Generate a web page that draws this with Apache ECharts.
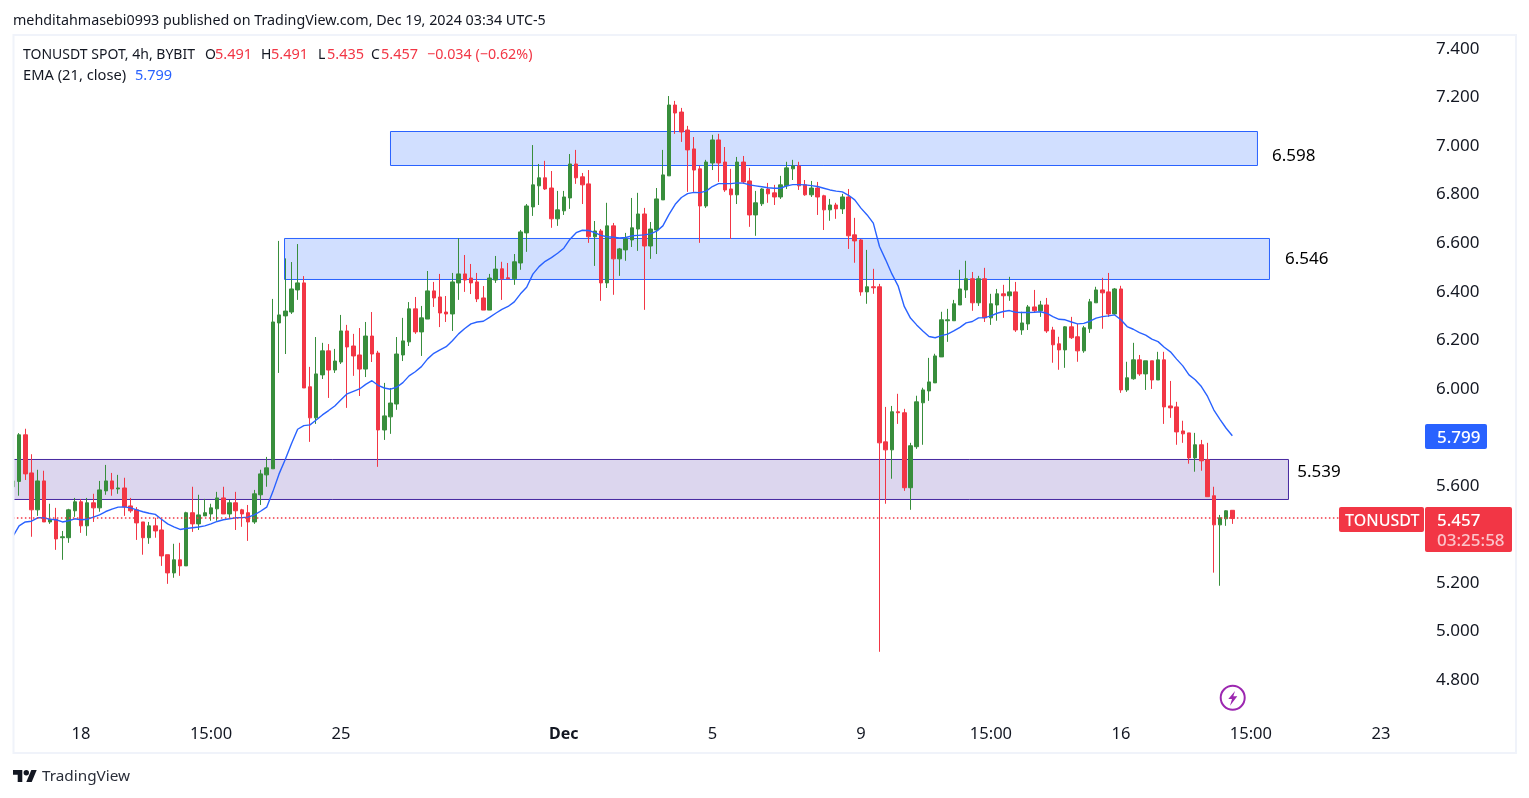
<!DOCTYPE html>
<html>
<head>
<meta charset="utf-8">
<title>TONUSDT</title>
<style>
  html, body { margin: 0; padding: 0; background: #fff; }
  #main { width: 1529px; height: 798px; }
</style>
<script src="https://cdn.jsdelivr.net/npm/echarts@6/dist/echarts.min.js"></script>
</head>
<body>
<div id="main"></div>
<script>
// 4h candles: [open, close, low, high]
const ohlc = [
  [5.588,5.612,5.588,5.612],
  [5.610,5.802,5.551,5.809],[5.802,5.641,5.616,5.827],[5.645,5.493,5.382,5.722],[5.493,5.612,5.468,5.658],[5.612,5.443,5.443,5.654],
  [5.443,5.454,5.435,5.518],[5.454,5.373,5.328,5.501],[5.378,5.382,5.287,5.406],[5.378,5.493,5.357,5.497],[5.489,5.526,5.464,5.542],
  [5.526,5.427,5.398,5.537],[5.427,5.522,5.386,5.542],[5.522,5.501,5.443,5.559],[5.501,5.575,5.485,5.612],[5.571,5.612,5.555,5.678],
  [5.612,5.579,5.551,5.645],[5.579,5.583,5.559,5.637],[5.583,5.505,5.468,5.625],[5.509,5.489,5.481,5.542],[5.493,5.439,5.369,5.504],
  [5.443,5.378,5.308,5.443],[5.378,5.427,5.353,5.443],[5.427,5.406,5.378,5.460],[5.410,5.303,5.262,5.456],[5.308,5.233,5.188,5.308],
  [5.233,5.287,5.213,5.353],[5.287,5.262,5.221,5.357],[5.262,5.481,5.262,5.485],[5.481,5.435,5.402,5.588],[5.435,5.472,5.410,5.555],
  [5.468,5.481,5.468,5.538],[5.476,5.501,5.448,5.518],[5.497,5.542,5.448,5.567],[5.542,5.476,5.476,5.588],[5.476,5.522,5.460,5.534],
  [5.522,5.489,5.410,5.567],[5.493,5.476,5.423,5.497],[5.481,5.443,5.365,5.513],[5.443,5.559,5.435,5.575],[5.555,5.641,5.513,5.658],
  [5.637,5.666,5.588,5.711],[5.662,6.267,5.662,6.362],[6.263,6.296,6.057,6.601],[6.292,6.312,6.135,6.529],[6.308,6.403,6.300,6.514],
  [6.399,6.428,6.358,6.588],[6.428,5.995,5.995,6.456],[6.000,5.872,5.773,6.082],[5.872,6.053,5.847,6.205],[6.049,6.148,6.032,6.181],
  [6.148,6.069,5.954,6.176],[6.069,6.106,6.057,6.156],[6.102,6.230,6.094,6.296],[6.230,6.164,5.913,6.255],[6.168,6.127,6.045,6.218],
  [6.131,6.073,5.962,6.242],[6.073,6.209,6.040,6.267],[6.209,6.135,6.102,6.308],[6.139,5.822,5.670,6.148],[5.822,5.880,5.781,6.016],
  [5.876,5.933,5.806,5.995],[5.929,6.135,5.905,6.205],[6.131,6.189,6.106,6.284],[6.185,6.321,6.168,6.349],[6.321,6.226,6.218,6.370],
  [6.226,6.284,6.127,6.333],[6.279,6.395,6.279,6.477],[6.395,6.366,6.329,6.432],[6.370,6.304,6.246,6.465],[6.308,6.300,6.267,6.374],
  [6.300,6.432,6.230,6.469],[6.428,6.465,6.358,6.612],[6.465,6.440,6.391,6.543],[6.448,6.428,6.382,6.506],[6.432,6.362,6.349,6.469],
  [6.366,6.316,6.316,6.415],[6.316,6.448,6.316,6.465],[6.440,6.485,6.428,6.539],[6.486,6.445,6.358,6.515],[6.449,6.445,6.445,6.510],
  [6.445,6.515,6.420,6.547],[6.510,6.638,6.482,6.646],[6.634,6.745,6.556,6.753],[6.741,6.832,6.704,6.996],[6.828,6.861,6.749,6.918],
  [6.861,6.815,6.811,6.931],[6.819,6.692,6.655,6.889],[6.692,6.729,6.663,6.807],[6.725,6.782,6.708,6.807],[6.778,6.918,6.733,6.959],
  [6.918,6.861,6.836,6.976],[6.865,6.832,6.753,6.881],[6.836,6.618,6.593,6.893],[6.618,6.642,6.498,6.683],[6.642,6.428,6.354,6.650],
  [6.428,6.663,6.407,6.758],[6.663,6.527,6.379,6.675],[6.527,6.568,6.457,6.572],[6.564,6.609,6.519,6.634],[6.605,6.655,6.576,6.778],
  [6.650,6.712,6.560,6.799],[6.712,6.580,6.317,6.737],[6.580,6.650,6.527,6.679],[6.646,6.774,6.547,6.819],[6.770,6.873,6.770,6.976],
  [6.869,7.161,6.869,7.198],[7.161,7.128,7.042,7.178],[7.132,7.050,7.009,7.149],[7.058,6.976,6.803,7.075],[6.980,6.893,6.803,7.029],
  [6.898,6.745,6.593,6.910],[6.745,6.926,6.737,6.935],[6.922,7.017,6.893,7.038],[7.017,6.922,6.844,7.042],[6.926,6.811,6.803,6.988],
  [6.815,6.791,6.609,6.898],[6.791,6.926,6.753,6.947],[6.926,6.844,6.836,6.951],[6.848,6.708,6.659,6.902],[6.708,6.758,6.622,6.807],
  [6.754,6.815,6.745,6.818],[6.815,6.795,6.758,6.840],[6.799,6.782,6.749,6.832],[6.782,6.832,6.774,6.869],[6.828,6.902,6.815,6.927],
  [6.898,6.910,6.852,6.935],[6.910,6.828,6.811,6.927],[6.832,6.791,6.787,6.852],[6.791,6.819,6.782,6.848],[6.819,6.782,6.708,6.844],
  [6.787,6.729,6.646,6.791],[6.729,6.749,6.684,6.774],[6.749,6.733,6.692,6.758],[6.733,6.782,6.712,6.795],[6.782,6.622,6.568,6.815],
  [6.626,6.601,6.511,6.696],[6.605,6.391,6.375,6.609],[6.391,6.412,6.342,6.564],[6.412,6.408,6.383,6.486],[6.412,5.769,4.908,6.424],
  [5.773,5.740,5.518,5.917],[5.740,5.897,5.621,5.921],[5.897,5.893,5.847,5.971],[5.893,5.584,5.571,5.909],[5.584,5.757,5.493,5.769],
  [5.753,5.938,5.744,5.963],[5.934,5.987,5.761,5.996],[5.983,6.020,5.942,6.119],[6.016,6.127,6.016,6.136],[6.123,6.276,6.123,6.309],
  [6.272,6.276,6.185,6.321],[6.272,6.342,6.272,6.358],[6.337,6.403,6.337,6.482],[6.399,6.445,6.366,6.519],[6.445,6.346,6.313,6.473],
  [6.346,6.445,6.333,6.457],[6.445,6.284,6.267,6.490],[6.284,6.342,6.255,6.383],[6.337,6.383,6.272,6.403],[6.383,6.375,6.284,6.420],
  [6.375,6.391,6.354,6.453],[6.391,6.234,6.226,6.432],[6.234,6.263,6.214,6.309],[6.259,6.329,6.234,6.337],[6.329,6.313,6.304,6.399],
  [6.313,6.337,6.288,6.354],[6.337,6.230,6.222,6.366],[6.234,6.173,6.099,6.247],[6.177,6.152,6.070,6.206],[6.152,6.247,6.078,6.250],
  [6.247,6.202,6.197,6.288],[6.206,6.148,6.103,6.259],[6.148,6.243,6.140,6.251],[6.239,6.350,6.222,6.362],[6.346,6.399,6.346,6.412],
  [6.399,6.387,6.239,6.449],[6.391,6.300,6.288,6.469],[6.300,6.403,6.296,6.407],[6.403,5.987,5.975,6.416],[5.987,6.037,5.979,6.103],
  [6.033,6.111,6.029,6.181],[6.111,6.053,6.045,6.131],[6.053,6.107,5.987,6.107],[6.107,6.028,5.991,6.107],[6.028,6.111,6.028,6.144],
  [6.111,5.917,5.847,6.144],[5.921,5.913,5.872,6.024],[5.917,5.814,5.761,5.938],[5.818,5.806,5.769,5.860],[5.810,5.707,5.683,5.810],
  [5.707,5.761,5.650,5.810],[5.761,5.695,5.654,5.781],[5.699,5.547,5.547,5.769],[5.551,5.431,5.234,5.588],[5.431,5.460,5.180,5.472],
  [5.456,5.489,5.427,5.491],[5.491,5.457,5.435,5.491]
];

// EMA (21, close), same length as ohlc
const ema = [
  5.383,5.427,5.443,5.446,5.460,5.460,5.454,5.452,5.443,5.448,5.456,5.452,5.454,5.463,5.472,5.486,5.496,5.504,5.505,5.501,
  5.493,5.485,5.479,5.474,5.454,5.435,5.423,5.412,5.416,5.419,5.422,5.427,5.435,5.445,5.452,5.456,5.460,5.461,5.463,5.472,
  5.487,5.504,5.568,5.641,5.700,5.765,5.825,5.840,5.843,5.863,5.884,5.902,5.921,5.946,5.971,5.981,5.991,6.010,6.025,6.006,
  5.995,5.990,5.998,6.017,6.045,6.062,6.083,6.115,6.138,6.152,6.165,6.190,6.218,6.240,6.259,6.267,6.270,6.286,6.303,6.319,
  6.331,6.350,6.383,6.410,6.464,6.495,6.517,6.532,6.550,6.571,6.608,6.635,6.645,6.644,6.635,6.624,6.618,6.616,6.613,6.615,
  6.622,6.624,6.626,6.630,6.641,6.663,6.710,6.752,6.780,6.796,6.801,6.800,6.806,6.825,6.837,6.837,6.837,6.840,6.839,6.832,
  6.828,6.824,6.820,6.818,6.818,6.828,6.833,6.833,6.832,6.829,6.825,6.818,6.811,6.806,6.803,6.789,6.770,6.736,6.708,6.674,
  6.578,6.523,6.465,6.416,6.331,6.283,6.255,6.230,6.207,6.202,6.211,6.217,6.230,6.245,6.263,6.269,6.284,6.285,6.292,6.303,
  6.310,6.314,6.307,6.306,6.306,6.307,6.309,6.303,6.289,6.278,6.276,6.267,6.259,6.261,6.270,6.283,6.289,6.292,6.296,6.276,
  6.248,6.237,6.223,6.213,6.196,6.186,6.163,6.144,6.114,6.086,6.049,6.029,6.001,5.960,5.905,5.866,5.829,5.798
];

// time axis: empty bars continue to the price scale
const barCount = 228;
const categories = Array.from({ length: barCount }, (_, i) => i);
const tickLabels = { 11: "18", 32: "15:00", 53: "25", 89: "Dec", 113: "5", 137: "9", 158: "15:00", 179: "16", 200: "15:00", 221: "23" };

// drawn boxes: [from bar, to bar, top price, bottom price]
const blueBoxes = [[61.0, 201.06, 7.0518, 6.9117], [43.88, 203.0, 6.6110, 6.4420]];
const purpleBoxes = [[0.1, 206.07, 5.7004, 5.5356]];
// box captions: [bar, price, text]
const boxLabels = [[203.4, 6.951, "6.598"], [205.5, 6.527, "6.546"], [207.5, 5.649, "5.539"]];

const lastPrice = 5.457;
const GREEN = "#388e3c";
const RED = "#f23645";
const BLUE = "#2962ff";
const TEXT = "#131722";
const FONT = '"Noto Sans", sans-serif';

function txt(x, y, text, fill, size, weight) {
    return {
        type: "text", x, y, z: 20,
        style: { text, fill, font: (weight || "normal") + " " + size + 'px ' + FONT, textVerticalAlign: "middle" },
    };
}
function box(x, y, width, height, fill, r) {
    return { type: "rect", z: 15, shape: { x, y, width, height, r: r || 0 }, style: { fill } };
}
function poly(points, fill) {
    return { type: "polygon", z: 16, shape: { points }, style: { fill } };
}

const chart = echarts.init(document.getElementById("main"), null, { renderer: "canvas" });
chart.setOption({
    animation: false,
    backgroundColor: "#fff",
    grid: { left: 12.9, width: 1405.13, top: 47, height: 631 },
    xAxis: [
        {
            type: "category",
            data: categories,
            boundaryGap: false,
            axisLine: { show: false },
            axisTick: { show: false },
            splitLine: { show: false },
            axisLabel: {
                interval: (i) => tickLabels[i] !== undefined,
                formatter: (v, i) => (tickLabels[i] === "Dec" ? "{b|Dec}" : tickLabels[i] || ""),
                color: TEXT,
                fontFamily: FONT,
                fontSize: 16.5,
                margin: 48,
                rich: { b: { fontWeight: "bold", fontSize: 16, color: TEXT, fontFamily: FONT } },
            },
        },
        // plain scale for the boxes, which don't sit on whole bars
        { type: "value", min: 0, max: barCount - 1, show: false },
    ],
    yAxis: {
        type: "value",
        position: "right",
        min: 4.8,
        max: 7.4,
        interval: 0.2,
        axisLine: { show: false },
        axisTick: { show: false },
        splitLine: { show: false },
        axisLabel: {
            margin: 18,
            formatter: (v) => "{p|" + v.toFixed(3) + "}",
            rich: { p: { color: TEXT, fontFamily: FONT, fontSize: 17, padding: [4, 0, 0, 0] } },
        },
    },
    series: [
        {
            name: "boxes",
            type: "line",
            xAxisIndex: 1,
            data: [],
            z: 1,
            markArea: {
                silent: true,
                z: 1,
                data: blueBoxes.map((b) => [
                    { coord: [b[0], b[2]], itemStyle: { color: "#d1dfff", borderColor: BLUE, borderWidth: 1 } },
                    { coord: [b[1], b[3]] },
                ]).concat(purpleBoxes.map((b) => [
                    { coord: [b[0], b[2]], itemStyle: { color: "#dcd6ee", borderColor: "#4527a0", borderWidth: 1 } },
                    { coord: [b[1], b[3]] },
                ])),
            },
            markPoint: {
                silent: true,
                symbol: "circle",
                symbolSize: 0,
                data: boxLabels.map((l) => ({
                    coord: [l[0], l[1]],
                    value: l[2],
                    label: { show: true, position: "right", distance: 0, formatter: l[2], color: "#000", fontFamily: FONT, fontSize: 17 },
                })),
            },
        },
        {
            name: "TONUSDT",
            type: "candlestick",
            data: ohlc,
            barWidth: 4,
            z: 3,
            itemStyle: { color: GREEN, color0: RED, borderColor: GREEN, borderColor0: RED, borderWidth: 1 },
            markLine: {
                silent: true,
                symbol: "none",
                label: { show: false },
                lineStyle: { color: RED, type: [1.5, 2.5], width: 1.5 },
                data: [{ yAxis: lastPrice }],
            },
        },
        {
            name: "EMA",
            type: "line",
            data: ema,
            showSymbol: false,
            z: 4,
            lineStyle: { color: BLUE, width: 1.4 },
        },
    ],
    graphic: [
        // the first bar is cut by the frame
        { type: "rect", z: 13, shape: { x: 0, y: 36, width: 13, height: 700 }, style: { fill: "#fff" } },
        // chart frame
        { type: "rect", z: 14, shape: { x: 13.5, y: 35, width: 1502.5, height: 718 }, style: { fill: "transparent", stroke: "#f0f3fa", lineWidth: 2 } },
        txt(13, 21, "mehditahmasebi0993 published on TradingView.com, Dec 19, 2024 03:34 UTC-5", TEXT, 14.3),
        txt(23, 55, "TONUSDT SPOT, 4h, BYBIT", TEXT, 14),
        txt(205, 55, "O", TEXT, 14), txt(215, 55, "5.491", RED, 14.5),
        txt(261, 55, "H", TEXT, 14), txt(271, 55, "5.491", RED, 14.5),
        txt(318, 55, "L", TEXT, 14), txt(327, 55, "5.435", RED, 14.5),
        txt(371, 55, "C", TEXT, 14), txt(381, 55, "5.457", RED, 14.5),
        txt(427, 55, "\u22120.034 (\u22120.62%)", RED, 14.3),
        txt(23, 76, "EMA (21, close)", TEXT, 14.7),
        txt(135, 76, "5.799", BLUE, 14.5),
        // price badges
        box(1425, 424, 62, 25, BLUE, 2),
        txt(1437, 438, "5.799", "#fff", 17, "500"),
        box(1339, 507, 85, 25, RED, 2),
        txt(1345, 521, "TONUSDT", "#fff", 16, "500"),
        box(1425, 507, 87, 45, RED, 2),
        txt(1437, 521, "5.457", "#fff", 17, "500"),
        txt(1437, 541, "03:25:58", "#fbc4ca", 17, "500"),
        // lightning mark
        { type: "circle", z: 15, shape: { cx: 1232.7, cy: 697.7, r: 12 }, style: { fill: "#fff", stroke: "#9c27b0", lineWidth: 2 } },
        poly([[1235, 691], [1228.3, 699], [1232, 699], [1230, 705.7], [1237.3, 696.3], [1233.3, 696.3]], "#9c27b0"),
        // logo
        poly([[13, 770], [22.3, 770], [22.3, 782], [17.7, 782], [17.7, 774.7], [13, 774.7]], TEXT),
        poly([[31.7, 782], [26.3, 782], [31.3, 770], [36.7, 770]], TEXT),
        { type: "circle", z: 16, shape: { cx: 26.3, cy: 772.7, r: 2.7 }, style: { fill: TEXT } },
        txt(42, 777, "TradingView", "#2a2e39", 15.3),
    ],
});
</script>
</body>
</html>
